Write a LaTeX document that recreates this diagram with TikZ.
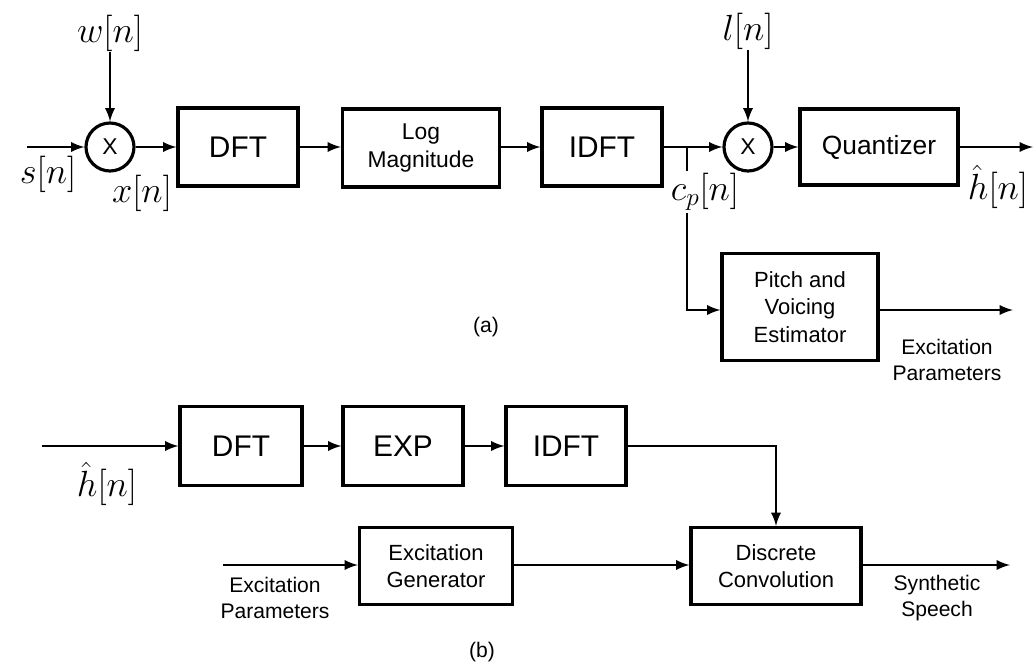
\documentclass[tikz,border=0pt]{standalone}
\usepackage{fontspec}
\setmainfont{Liberation Sans}
\usetikzlibrary{positioning}

\tikzset{
  blk/.style={draw, rectangle, line width=1.8pt, align=center, inner sep=2pt},
  mult/.style={draw, circle, line width=1.8pt, minimum size=0.96cm, inner sep=0pt, font=\fontsize{13}{15}\selectfont},
  sig/.style={inner sep=0pt, font=\fontsize{21}{24}\selectfont},
  small/.style={align=center, font=\fontsize{12}{15}\selectfont},
  wire/.style={draw, line width=1.6pt, ->, >=latex}
}

\begin{document}
\begin{tikzpicture}[x=0.02cm, y=-0.02cm]
    \useasboundingbox (0,0) rectangle (1035,666);

    % (a) analysis
    \coordinate (sin) at (27,147);
    \node[mult] (m1) at (110,147) {X};
    \node[sig] (w) at (110,33) {$w[n]$};
    \node[sig] (s) at (48,174) {$s[n]$};
    \node[sig] (x) at (142,193) {$x[n]$};
    \node[blk, minimum width=2.4cm, minimum height=1.56cm, font=\fontsize{17}{20}\selectfont] (dfta) at (238,147) {DFT};
    \node[blk, minimum width=3.14cm, minimum height=1.56cm, font=\fontsize{13}{15.5}\selectfont] (logm) at (421,148) {Log\\Magnitude};
    \node[blk, minimum width=2.4cm, minimum height=1.56cm, font=\fontsize{17}{20}\selectfont] (idfta) at (602,147) {IDFT};
    \coordinate (br) at (687,147);
    \node[mult] (m2) at (748,147) {X};
    \node[sig] (l) at (748,31) {$l[n]$};
    \node[blk, minimum width=3.16cm, minimum height=1.52cm, font=\fontsize{15}{18}\selectfont] (quant) at (879,147) {Quantizer};
    \coordinate (hout) at (1033,147);
    \node[sig] (ha) at (998,187) {$\hat{h}[n]$};
    \node[blk, minimum width=3.12cm, minimum height=2.14cm, font=\fontsize{12.5}{15.5}\selectfont] (pitch) at (800,307) {Pitch and\\Voicing\\Estimator};
    \coordinate (eout) at (1013,310);
    \node[small] (epa) at (947,360) {Excitation\\Parameters};
    \node[small] (capa) at (486,327) {(a)};

    \path[wire] (sin) -- (m1);
    \path[wire] (w) -- (m1);
    \path[wire] (m1) -- (dfta);
    \path[wire] (dfta) -- (logm.west |- dfta);
    \path[wire] (logm.east |- idfta) -- (idfta);
    \path[wire] (idfta) -- (m2);
    \path[wire] (l) -- (m2);
    \path[wire] (m2) -- (quant);
    \path[wire] (quant) -- (hout);
    \path[wire] (br) |- (pitch.west |- eout);
    \path[wire] (pitch.east |- eout) -- (eout);
    \node[sig, fill=white, inner sep=1pt] (cp) at (705,192) {$c_p[n]$};

    % (b) synthesis
    \coordinate (hin) at (42,446);
    \node[sig] (hb) at (107,484) {$\hat{h}[n]$};
    \node[blk, minimum width=2.44cm, minimum height=1.58cm, font=\fontsize{17}{20}\selectfont] (dftb) at (241,446) {DFT};
    \node[blk, minimum width=2.4cm, minimum height=1.58cm, font=\fontsize{17}{20}\selectfont] (expb) at (403,446) {EXP};
    \node[blk, minimum width=2.4cm, minimum height=1.58cm, font=\fontsize{17}{20}\selectfont] (idftb) at (566,446) {IDFT};
    \coordinate (ein) at (223,565);
    \node[small] (epb) at (275,598) {Excitation\\Parameters};
    \node[blk, minimum width=3.06cm, minimum height=1.54cm, font=\fontsize{12.5}{15.5}\selectfont] (gen) at (436,566) {Excitation\\Generator};
    \node[blk, minimum width=3.4cm, minimum height=1.54cm, font=\fontsize{12.5}{15.5}\selectfont] (conv) at (776,566) {Discrete\\Convolution};
    \coordinate (sout) at (1010,565);
    \node[small] (synth) at (937,598) {Synthetic\\Speech};
    \node[small] (capb) at (482,652) {(b)};

    \path[wire] (hin) -- (dftb.west |- hin);
    \path[wire] (dftb) -- (expb);
    \path[wire] (expb) -- (idftb);
    \path[wire] (idftb) -| (conv);
    \path[wire] (ein) -- (gen.west |- ein);
    \path[wire] (gen.east |- ein) -- (conv.west |- ein);
    \path[wire] (conv.east |- sout) -- (sout);
\end{tikzpicture}
\end{document}
